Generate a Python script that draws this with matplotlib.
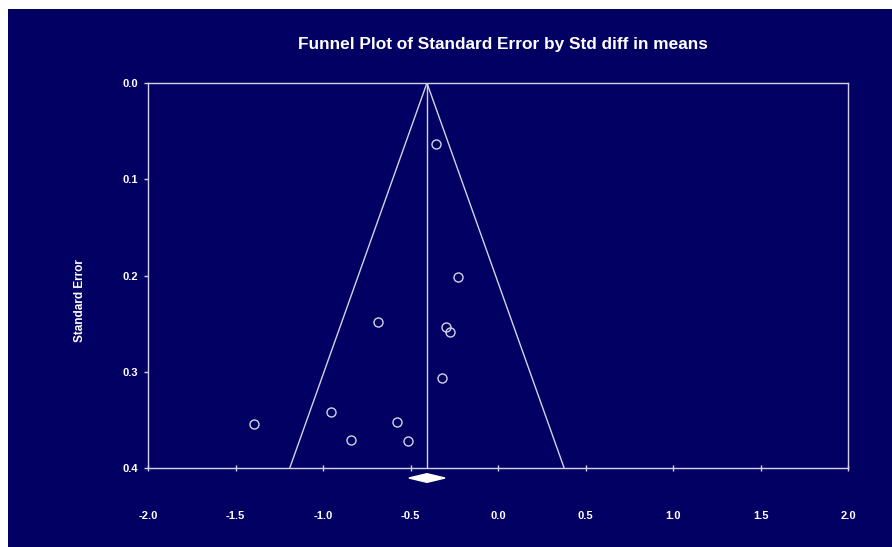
import matplotlib.pyplot as plt
from matplotlib.patches import Rectangle, Polygon

# Study effects (Std diff in means) and their standard errors
std_diff = [-0.354, -0.229, -0.684, -0.297, -0.274, -0.318, -0.956, -1.396, -0.577, -0.840, -0.513]
std_err = [0.063, 0.202, 0.248, 0.254, 0.259, 0.307, 0.342, 0.354, 0.352, 0.371, 0.372]

# Combined estimate and its CI (diamond)
combined = -0.406
combined_lo = -0.509
combined_hi = -0.303

x_ticks = [-2.0, -1.5, -1.0, -0.5, 0.0, 0.5, 1.0, 1.5, 2.0]
y_ticks = [0.0, 0.1, 0.2, 0.3, 0.4]
se_max = 0.4

NAVY = "#020062"
LINE = "#d2d2e6"
FONT = ["Liberation Sans", "DejaVu Sans"]


def main():
    W, H = 892, 547
    fig = plt.figure(figsize=(W / 100, H / 100), dpi=100, facecolor="white")

    # navy panel with a thin white margin on top and left
    fig.patches.append(Rectangle((8 / W, 0), 1 - 8 / W, 1 - 9 / H,
                                 transform=fig.transFigure, facecolor=NAVY,
                                 edgecolor="none", zorder=-10))

    ax = fig.add_axes([148 / W, 1 - 468 / H, 700 / W, 385 / H])
    ax.set_zorder(1)
    ax.set_facecolor(NAVY)
    for s in ax.spines.values():
        s.set_color(LINE)
        s.set_linewidth(1.0)

    ax.set_xlim(-2.0, 2.0)
    ax.set_ylim(se_max, 0.0)

    # funnel and mean line
    ax.plot([combined - 1.96 * se_max, combined, combined + 1.96 * se_max],
            [se_max, 0.0, se_max], color=LINE, lw=1.0)
    ax.plot([combined, combined], [0.0, se_max], color=LINE, lw=1.0)

    ax.plot(std_diff, std_err, "o", ms=6.5, mfc="none", mec=LINE, mew=1.0)

    # diamond for the combined effect, below the axis
    dy = 0.0045
    yd = 0.4104
    diamond = Polygon([[combined_lo, yd], [combined, yd - dy],
                       [combined_hi, yd], [combined, yd + dy]],
                      closed=True, facecolor="white", edgecolor="white",
                      clip_on=False, zorder=5)
    ax.add_patch(diamond)

    ax.set_xticks(x_ticks)
    ax.set_xticklabels([f"{v:.1f}" for v in x_ticks])
    ax.set_yticks(y_ticks)
    ax.set_yticklabels([f"{v:.1f}" for v in y_ticks])
    ax.tick_params(axis="x", direction="inout", length=5, width=1, color=LINE,
                   colors="white", pad=28.5, labelsize=8)
    ax.tick_params(axis="y", direction="out", length=3, width=1, color=LINE,
                   colors="white", pad=4, labelsize=8)
    for lab in ax.get_xticklabels() + ax.get_yticklabels():
        lab.set_fontweight("bold")
        lab.set_family(FONT)

    fig.text(80 / W, 1 - 301 / H, "Standard Error", rotation=90, color="white",
             fontsize=8.5, fontweight="bold", family=FONT, ha="center", va="center")
    fig.text(503 / W, 1 - 45 / H, "Funnel Plot of Standard Error by Std diff in means",
             color="white", fontsize=12.4, fontweight="bold", family=FONT,
             ha="center", va="center")

    plt.savefig("out.png", dpi=100, facecolor="white")


if __name__ == "__main__":
    main()
